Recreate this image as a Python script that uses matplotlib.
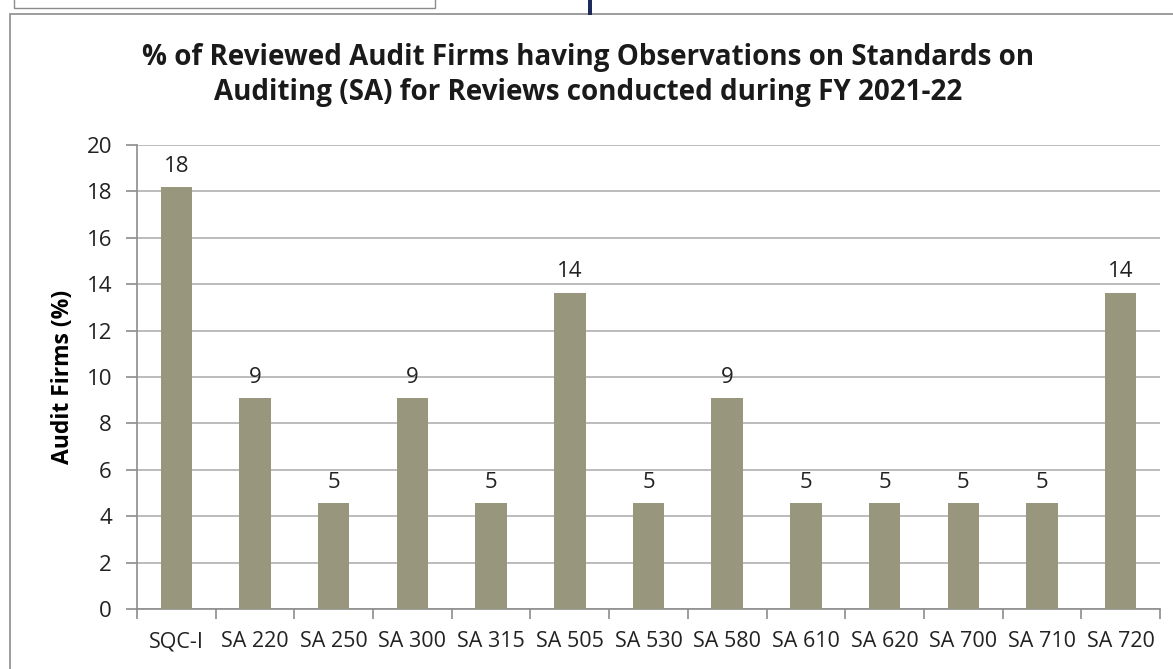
import matplotlib.pyplot as plt
from matplotlib.patches import Rectangle

# data
categories = ['SQC-I', 'SA 220', 'SA 250', 'SA 300', 'SA 315', 'SA 505', 'SA 530',
              'SA 580', 'SA 610', 'SA 620', 'SA 700', 'SA 710', 'SA 720']
values = [18.18, 9.09, 4.55, 9.09, 4.55, 13.64, 4.55, 9.09, 4.55, 4.55, 4.55, 4.55, 13.64]
yticks = [0, 2, 4, 6, 8, 10, 12, 14, 16, 18, 20]

plt.rcParams['font.family'] = ['Open Sans', 'DejaVu Sans']

fig = plt.figure(figsize=(11.73, 6.69), dpi=100)
W, H = 1173, 669

# outer chart frame and bits of the page above it
fig.patches.append(Rectangle((10 / W, -0.1), 1.2, 1 - 14 / H + 0.1, transform=fig.transFigure,
                             fill=False, edgecolor='#8c8c8c', linewidth=1.2))
fig.patches.append(Rectangle((14 / W, 1 - 8 / H), (435 - 14) / W, 0.2, transform=fig.transFigure,
                             fill=False, edgecolor='#8c8c8c', linewidth=1.0))
fig.patches.append(Rectangle((588 / W, 1 - 15 / H), 4 / W, 0.1, transform=fig.transFigure,
                             facecolor='#1f2a5c', edgecolor='none'))

ax = fig.add_axes([137 / W, 1 - 609 / H, (1160 - 137) / W, (609 - 145) / H])
x = range(len(categories))
bars = ax.bar(x, values, width=0.4, color='#98967c', zorder=3)
for b, v in zip(bars, values):
    ax.text(b.get_x() + b.get_width() / 2, v + 0.45, f'{v:.0f}', ha='center', va='bottom',
            fontsize=16, color='#222222')

ax.set_xlim(-0.5, len(categories) - 0.5)
ax.set_ylim(0, 20)
ax.set_yticks(yticks)
ax.set_xticks(x)
ax.set_xticklabels(categories)
ax.set_xticks([i - 0.5 for i in range(len(categories) + 1)], minor=True)
ax.tick_params(axis='x', which='major', length=0, pad=16, labelsize=15.5, labelcolor='#222222')
ax.tick_params(axis='x', which='minor', length=7, color='#8c8c8c', width=1.2)
ax.tick_params(axis='y', length=8, color='#8c8c8c', width=1.2, labelsize=16, pad=10,
               labelcolor='#222222')
ax.grid(axis='y', color='#b0b0b0', linewidth=1.2, zorder=0)
for side in ['top', 'right']:
    ax.spines[side].set_visible(False)
for side in ['left', 'bottom']:
    ax.spines[side].set_color('#8c8c8c')
    ax.spines[side].set_linewidth(1.2)

ax.set_ylabel('Audit Firms (%)', fontsize=16.5, fontweight='bold', labelpad=8)
fig.text(588 / W, 1 - 75 / H,
         '% of Reviewed Audit Firms having Observations on Standards on\n'
         'Auditing (SA) for Reviews conducted during FY 2021-22',
         ha='center', va='center', fontsize=20, fontweight='bold', linespacing=1.25,
         color='#1a1a1a')

fig.savefig('out.png', dpi=100)
